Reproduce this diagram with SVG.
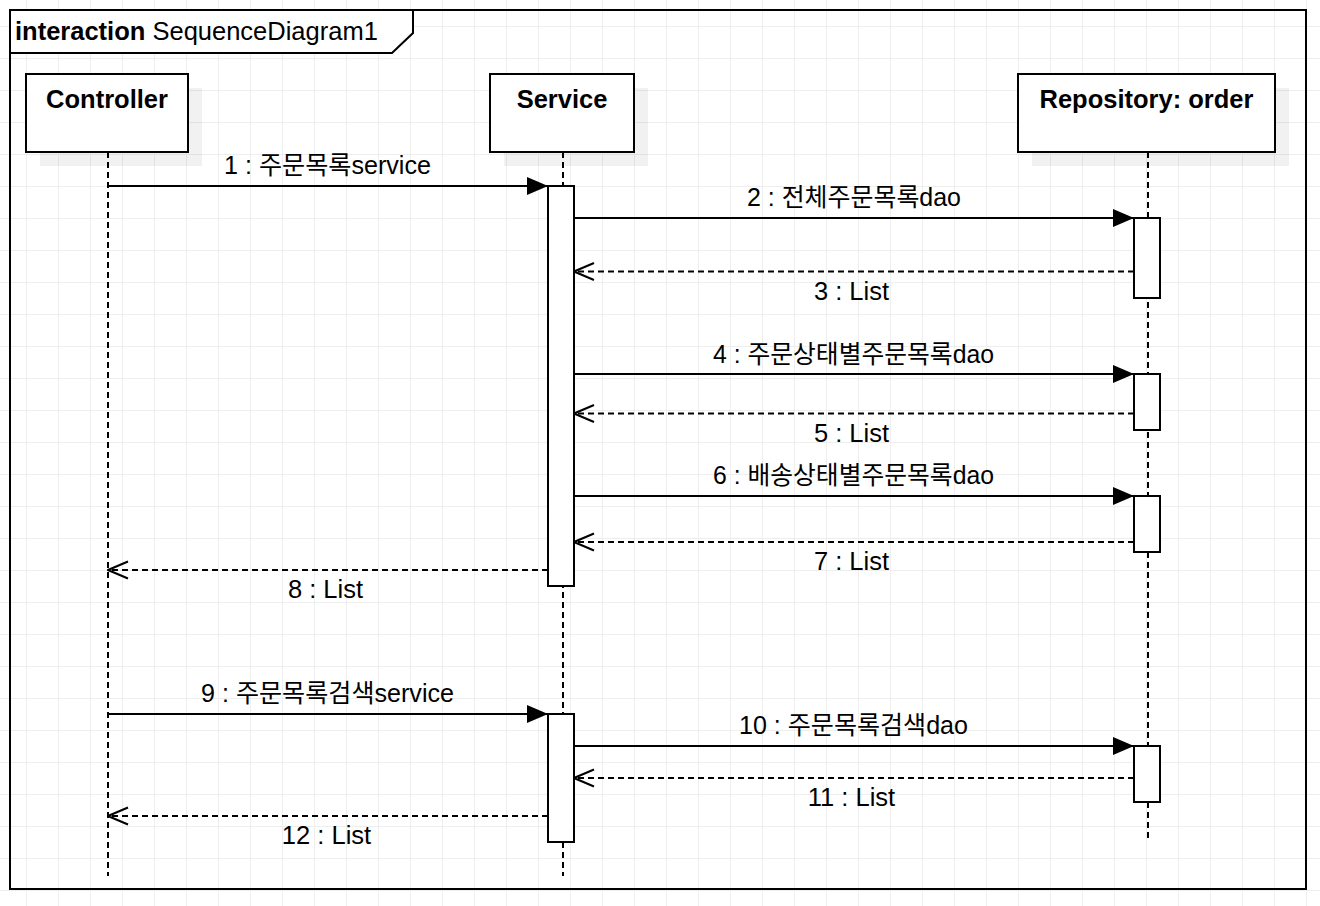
<svg xmlns="http://www.w3.org/2000/svg" width="1320" height="906" viewBox="0 0 1320 906">
<defs>
<pattern id="grid" x="26" y="26" width="32" height="32" patternUnits="userSpaceOnUse">
<path d="M0 0.5H32M0.5 0V32" fill="none" stroke="#eeeeee" stroke-width="1"/>
</pattern>
<marker id="filled" viewBox="0 0 21 18" refX="21" refY="9" markerWidth="21" markerHeight="18" markerUnits="userSpaceOnUse" orient="auto">
<path d="M0 0L21 9L0 18Z" fill="#000"/>
</marker>
<marker id="open" viewBox="0 0 22 20" refX="21" refY="10" markerWidth="22" markerHeight="20" markerUnits="userSpaceOnUse" orient="auto">
<path d="M1 1.5L21 10L1 18.5" fill="none" stroke="#000" stroke-width="2"/>
</marker>
</defs>
<style>
text{font-family:"Liberation Sans","Noto Sans CJK KR",Arial,sans-serif;font-size:25.5px;fill:#000}
.b{font-weight:bold}
.box{fill:#fff;stroke:#000;stroke-width:2}
.shadow{fill:#000;fill-opacity:0.055}
.life{stroke:#000;stroke-width:2;stroke-dasharray:6 4;fill:none}
.act{fill:#fff;stroke:#000;stroke-width:2}
.call{stroke:#000;stroke-width:2;fill:none;marker-end:url(#filled)}
.ret{stroke:#000;stroke-width:2;fill:none;stroke-dasharray:6 4;marker-end:url(#open)}
.lbl{text-anchor:middle}
</style>
<rect x="0" y="0" width="1320" height="906" fill="#fff"/>
<rect x="0" y="0" width="1320" height="906" fill="url(#grid)"/>
<g id="frame">
<rect x="10" y="10" width="1296" height="879" fill="none" stroke="#000" stroke-width="2"/>
<path d="M10 10H413V33L392 53H10Z" fill="#fff" stroke="#000" stroke-width="2"/>
<text x="15" y="40"><tspan class="b">interaction</tspan> SequenceDiagram1</text>
</g>
<g id="lifelines">
<line class="life" x1="108" y1="152" x2="108" y2="876"/>
<line class="life" x1="563" y1="152" x2="563" y2="876"/>
<line class="life" x1="1148" y1="152" x2="1148" y2="842"/>
</g>
<g id="controller">
<rect class="shadow" x="40" y="88" width="162" height="78"/>
<rect class="box" x="26" y="74" width="162" height="78"/>
<text class="b lbl" x="107" y="108">Controller</text>
</g>
<g id="service">
<rect class="shadow" x="504" y="88" width="144" height="78"/>
<rect class="box" x="490" y="74" width="144" height="78"/>
<text class="b lbl" x="562" y="108">Service</text>
</g>
<g id="repository">
<rect class="shadow" x="1032" y="88" width="257" height="78"/>
<rect class="box" x="1018" y="74" width="257" height="78"/>
<text class="b lbl" x="1146.5" y="108">Repository: order</text>
</g>
<g id="activations">
<rect class="act" x="548" y="186" width="26" height="400"/>
<rect class="act" x="548" y="714" width="26" height="128"/>
<rect class="act" x="1134" y="218" width="26" height="80"/>
<rect class="act" x="1134" y="374" width="26" height="56"/>
<rect class="act" x="1134" y="496" width="26" height="56"/>
<rect class="act" x="1134" y="746" width="26" height="56"/>
</g>
<g id="connectors">
<line class="call" x1="108" y1="186" x2="548" y2="186"/>
<line class="call" x1="574" y1="218" x2="1134" y2="218"/>
<line class="ret" x1="1134" y1="271.5" x2="574" y2="271.5"/>
<line class="call" x1="574" y1="374" x2="1134" y2="374"/>
<line class="ret" x1="1134" y1="413.5" x2="574" y2="413.5"/>
<line class="call" x1="574" y1="496" x2="1134" y2="496"/>
<line class="ret" x1="1134" y1="542" x2="574" y2="542"/>
<line class="ret" x1="548" y1="570" x2="108" y2="570"/>
<line class="call" x1="108" y1="714" x2="548" y2="714"/>
<line class="call" x1="574" y1="746" x2="1134" y2="746"/>
<line class="ret" x1="1134" y1="778" x2="574" y2="778"/>
<line class="ret" x1="548" y1="816" x2="108" y2="816"/>
</g>
<g id="labels">
<text class="lbl" x="327.5" y="174" textLength="207" lengthAdjust="spacingAndGlyphs">1 : 주문목록service</text>
<text class="lbl" x="854" y="206" textLength="214" lengthAdjust="spacingAndGlyphs">2 : 전체주문목록dao</text>
<text class="lbl" x="851.5" y="300">3 : List</text>
<text class="lbl" x="853.5" y="363" textLength="281" lengthAdjust="spacingAndGlyphs">4 : 주문상태별주문목록dao</text>
<text class="lbl" x="851.5" y="442">5 : List</text>
<text class="lbl" x="853.5" y="484" textLength="281" lengthAdjust="spacingAndGlyphs">6 : 배송상태별주문목록dao</text>
<text class="lbl" x="851.5" y="570">7 : List</text>
<text class="lbl" x="325.5" y="598">8 : List</text>
<text class="lbl" x="327.5" y="702" textLength="253" lengthAdjust="spacingAndGlyphs">9 : 주문목록검색service</text>
<text class="lbl" x="853.5" y="734" textLength="229" lengthAdjust="spacingAndGlyphs">10 : 주문목록검색dao</text>
<text class="lbl" x="851.5" y="806">11 : List</text>
<text class="lbl" x="326.5" y="844">12 : List</text>
</g>
</svg>
